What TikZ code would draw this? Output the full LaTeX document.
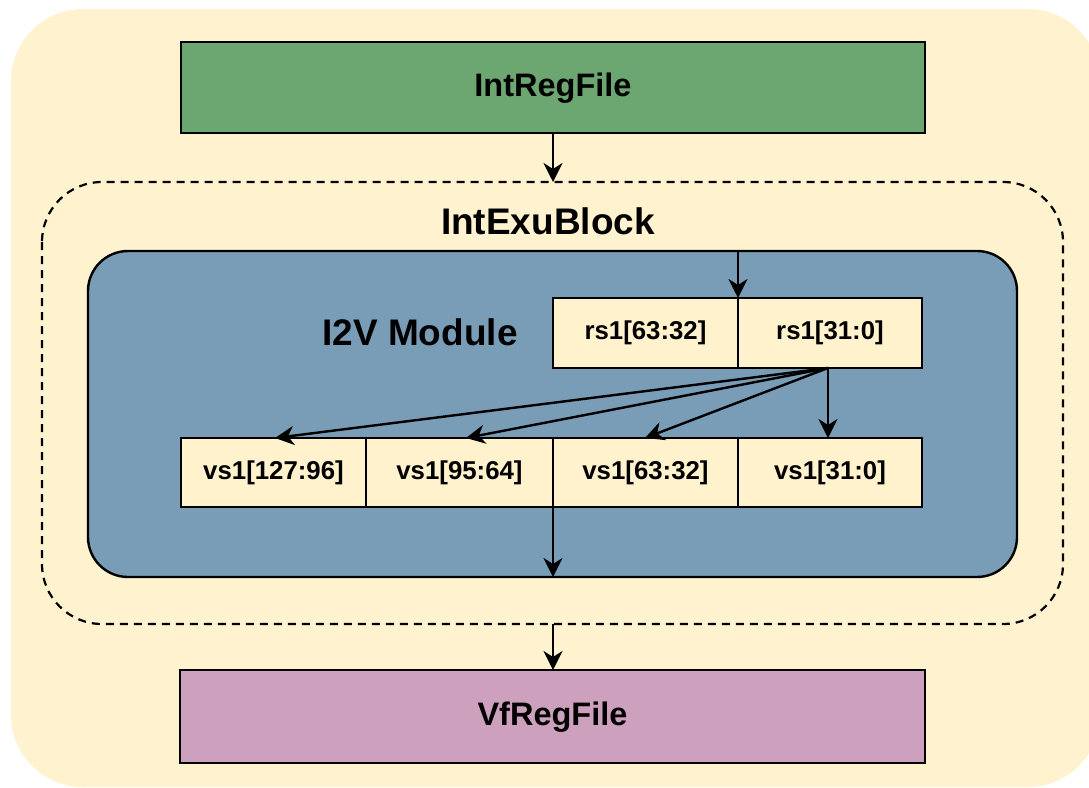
\documentclass[tikz,border=0pt]{standalone}
\usepackage{fontspec}
\setmainfont{Liberation Sans}
\usetikzlibrary{arrows.meta}
\definecolor{bgcream}{RGB}{255,243,207}
\definecolor{cellcream}{RGB}{255,242,204}
\definecolor{regGreen}{RGB}{108,167,114}
\definecolor{modBlue}{RGB}{121,157,183}
\definecolor{regPink}{RGB}{205,161,190}
\tikzset{
  boxline/.style={draw=black, line width=2.4pt},
  regbox/.style={boxline, font=\bfseries\fontsize{32.5}{38}\selectfont},
  cell/.style={boxline, fill=cellcream, outer sep=0pt, font=\bfseries\fontsize{25.8}{31}\selectfont},
  flow/.style={line width=2.4pt, -{Stealth[length=19pt,width=19pt,inset=6pt]}},
  bigtitle/.style={font=\bfseries\fontsize{37}{44}\selectfont}
}
\begin{document}
\begin{tikzpicture}[x=1pt,y=-1pt]
\useasboundingbox (0,0) rectangle (1089,787);
% outer cream panel
\begin{scope}
\clip (0,0) rectangle (1089,787);
\fill[bgcream, rounded corners=72pt] (11,9) rectangle (1100,787);
\end{scope}
% register files
\draw[regbox, fill=regGreen] (181,42) rectangle (925,133);
\node[regbox, draw=none] (irf) at (553,88) {IntRegFile};
\coordinate (irfS) at (553,133);
\draw[regbox, fill=regPink] (180,670) rectangle (925,763);
\node[regbox, draw=none] (vrf) at (552.5,717) {VfRegFile};
\coordinate (vrfN) at (553,670);
% dashed execution block
\draw[line width=2.2pt, dash pattern=on 8pt off 6pt, rounded corners=60pt] (42,182) rectangle (1063,624);
\node[bigtitle] (exu) at (548,221) {IntExuBlock};
\coordinate (exuN) at (553,182);
\coordinate (exuS) at (553,624);
% I2V module
\draw[boxline, fill=modBlue, rounded corners=40pt] (88,251) rectangle (1017,577);
\node[bigtitle] (i2v) at (420,332) {I2V Module};
\coordinate (modN) at (738,251);
\coordinate (modS) at (553,577);
% scalar source halves
\node[cell, minimum width=185pt, minimum height=70pt, anchor=north west] (rsHi) at (553,298) {rs1[63:32]};
\node[cell, minimum width=184pt, minimum height=70pt, anchor=north west] (rsLo) at (738,298) {rs1[31:0]};
% vector lanes
\node[cell, minimum width=185pt, minimum height=69pt, anchor=north west] (vs3) at (181,438) {vs1[127:96]};
\node[cell, minimum width=187pt, minimum height=69pt, anchor=north west] (vs2) at (366,438) {vs1[95:64]};
\node[cell, minimum width=185pt, minimum height=69pt, anchor=north west] (vs1) at (553,438) {vs1[63:32]};
\node[cell, minimum width=184pt, minimum height=69pt, anchor=north west] (vs0) at (738,438) {vs1[31:0]};
% connectors
\coordinate (src) at (828,368);
\draw[flow] (irfS) -- (exuN);
\draw[flow] (modN) -- (rsLo.north west);
\draw[flow] (src) -- (275,438);
\draw[flow] (src) -- (466,438);
\draw[flow] (src) -- (645,438);
\draw[flow] (src) -- (828,438);
\draw[flow] (vs1.south west) -- (modS);
\draw[flow] (exuS) -- (vrfN);
\end{tikzpicture}
\end{document}
